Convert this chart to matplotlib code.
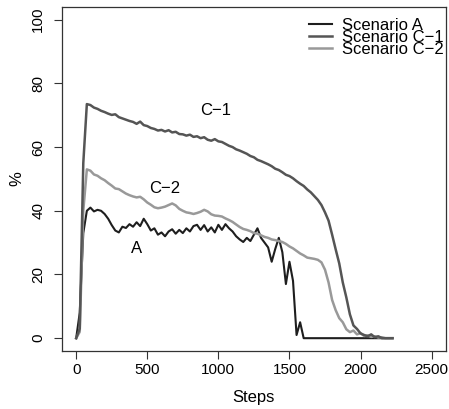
import matplotlib
matplotlib.use('Agg')
import matplotlib.pyplot as plt
import numpy as np

plt.rcParams['font.family'] = ['Liberation Sans', 'DejaVu Sans']

# steps sampled every 25
steps = np.arange(0, 2250, 25)

scen_a = [0, 8, 33, 40, 41.0, 39.8, 40.3, 40.0, 39.0, 37.5,
          35.5, 33.8, 33.2, 35.0, 34.6, 35.8, 35.0, 36.4, 35.2, 37.5,
          35.8, 33.8, 34.5, 32.5, 33.2, 32.0, 33.5, 34.2, 32.8, 34.0,
          33.0, 34.5, 33.5, 35.2, 35.6, 34.0, 35.5, 33.5, 34.8, 33.2,
          35.6, 34.0, 35.8, 34.5, 33.5, 32.0, 31.0, 30.2, 31.5, 30.5,
          32.5, 34.5, 31.5, 30.0, 28.5, 24.0, 28.0, 31.5, 27.0, 17.0,
          24.0, 18.0, 1.0, 5.0, 0, 0, 0, 0, 0, 0,
          0, 0, 0, 0, 0, 0, 0, 0, 0, 0,
          0, 0, 0, 0, 0, 0, 0, 0, 0, 0]

scen_c1 = [0, 3, 55, 73.5, 73.2, 72.4, 72.0, 71.4, 71.0, 70.5,
           70.1, 70.3, 69.4, 69.0, 68.6, 68.2, 67.9, 67.3, 68.0, 66.9,
           66.6, 66.0, 65.7, 65.2, 65.4, 64.9, 65.3, 64.6, 64.8, 64.1,
           64.0, 63.6, 63.9, 63.2, 63.4, 62.8, 63.1, 62.3, 62.0, 62.5,
           61.8, 61.6, 61.0, 60.4, 60.0, 59.3, 58.9, 58.4, 57.9, 57.2,
           56.8, 56.0, 55.6, 55.1, 54.6, 54.0, 53.2, 52.8, 52.1, 51.3,
           50.9, 50.2, 49.3, 48.5, 47.8, 46.7, 45.8, 44.6, 43.4, 41.8,
           39.5, 36.9, 32.5, 27.9, 23.5, 17.5, 12.8, 7.5, 4.0, 2.9,
           1.5, 1.0, 0.6, 1.2, 0.3, 0.6, 0, 0, 0, 0]

scen_c2 = [0, 2, 40, 53, 52.6, 51.4, 51.0, 50.2, 49.6, 48.7,
           47.9, 47.0, 46.8, 46.1, 45.4, 44.9, 44.5, 44.2, 44.4, 43.6,
           42.6, 41.9, 41.1, 40.8, 41.0, 41.3, 41.8, 42.3, 41.7, 40.6,
           40.0, 39.5, 39.3, 39.0, 39.3, 39.7, 40.3, 39.8, 38.9, 38.5,
           38.4, 38.2, 37.6, 37.1, 36.5, 35.7, 34.9, 34.3, 34.0, 33.6,
           33.0, 32.8, 32.3, 31.8, 31.5, 31.0, 30.8, 30.5, 30.2, 29.6,
           28.8, 28.2, 27.4, 26.6, 26.0, 25.3, 25.1, 24.9, 24.6, 23.8,
           21.5, 17.5, 12.0, 8.8, 6.3, 5.0, 2.8, 1.9, 2.4, 1.2,
           1.6, 0.7, 0.9, 0.4, 0.6, 0.2, 0.3, 0, 0, 0]

labels = ['Scenario A', 'Scenario C\u22121', 'Scenario C\u22122']
colors = ['#1e1e1e', '#555555', '#999999']

fig = plt.figure(figsize=(4.49, 4.09), dpi=100)
ax = fig.add_axes([0.138, 0.142, 0.855, 0.841])

ax.plot(steps, scen_a, color=colors[0], lw=1.5, label=labels[0], zorder=2)
ax.plot(steps, scen_c2, color=colors[2], lw=1.8, label=labels[2], zorder=3)
ax.plot(steps, scen_c1, color=colors[1], lw=1.8, label=labels[1], zorder=4)

ax.set_xlim(-100, 2600)
ax.set_ylim(-4, 104)
ax.set_xticks([0, 500, 1000, 1500, 2000, 2500])
ax.set_yticks([0, 20, 40, 60, 80, 100])
ax.tick_params(axis='both', length=6, width=0.8, labelsize=11, color='#333333')
ax.tick_params(axis='x', pad=3)
ax.tick_params(axis='y', pad=6)
for lab in ax.get_yticklabels():
    lab.set_rotation(90)
    lab.set_va('center')
for sp in ax.spines.values():
    sp.set_linewidth(0.9)
    sp.set_color('#333333')

ax.set_xlabel('Steps', fontsize=12, labelpad=9)
ax.set_ylabel('%', fontsize=12, labelpad=5)

narrow = ['Liberation Sans Narrow', 'Liberation Sans']
ax.text(983, 71.5, 'C\u22121', family=narrow, fontsize=12, ha='center', va='center')
ax.text(625, 47.0, 'C\u22122', family=narrow, fontsize=12, ha='center', va='center')
ax.text(425, 28.2, 'A', family=narrow, fontsize=12, ha='center', va='center')

h, l = ax.get_legend_handles_labels()
order = [0, 2, 1]
h = [h[i] for i in order]
l = [l[i] for i in order]
ax.legend(h, l, loc='upper right', bbox_to_anchor=(1.0, 0.972),
          frameon=False, fontsize=12,
          handlelength=1.4, handletextpad=0.6, labelspacing=-0.18,
          borderpad=0.1, borderaxespad=0.0)

fig.savefig('out.png', dpi=100)
